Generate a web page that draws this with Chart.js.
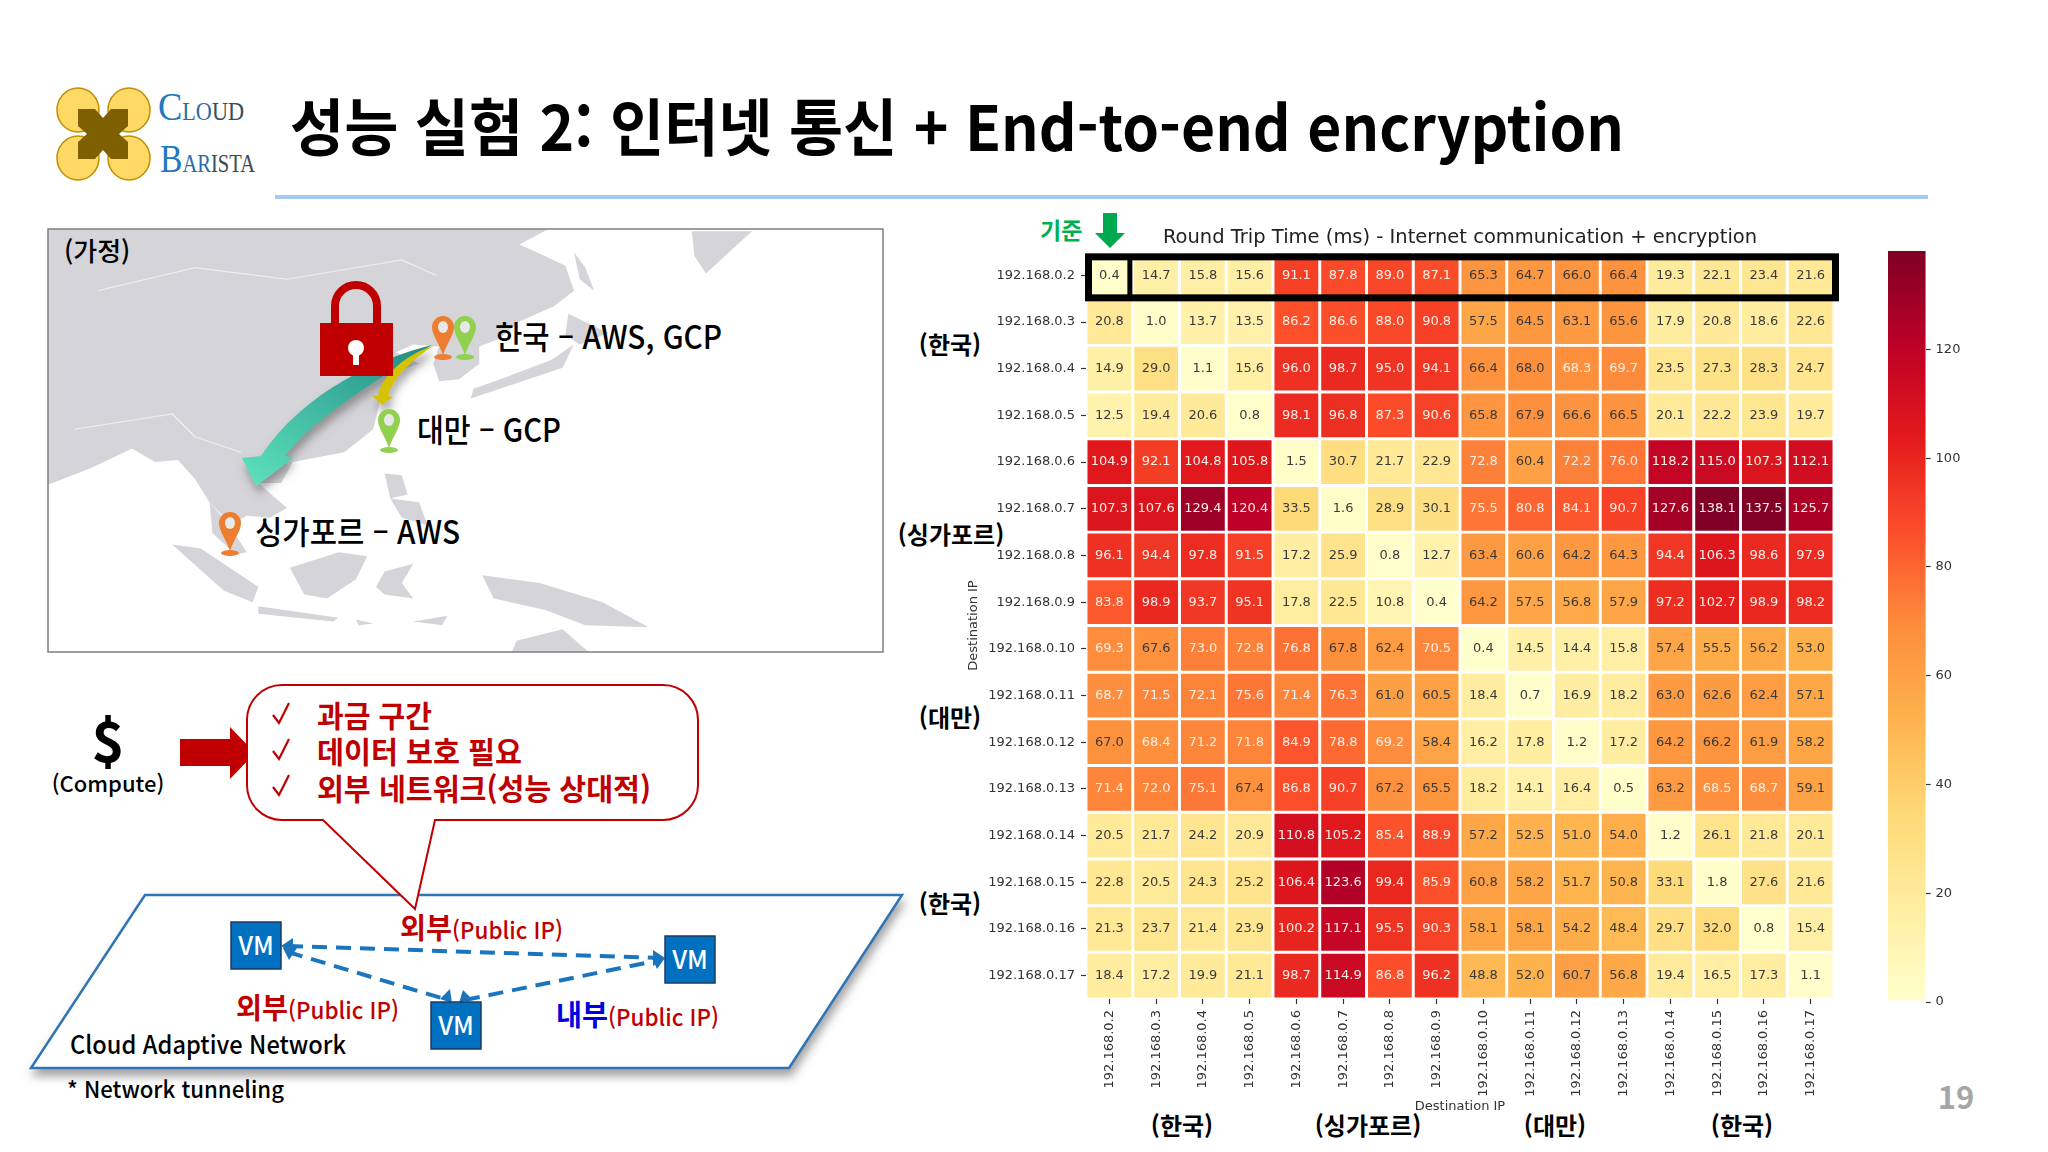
<!DOCTYPE html>
<html lang="ko">
<head>
<meta charset="utf-8">
<title>성능 실험 2</title>
<script src="https://cdn.jsdelivr.net/npm/chart.js@4/dist/chart.umd.min.js"></script>
<style>
  html, body { margin: 0; padding: 0; background: #fff; width: 2048px; height: 1152px; overflow: hidden; }
  #slide { position: absolute; left: 0; top: 0; }
  canvas { position: absolute; }
  #heatmap { left: 966px; top: 225px; }
  #colorbar { left: 1870px; top: 240px; }
  svg text { font-family: "Noto Sans CJK KR", "Noto Sans", sans-serif; }
</style>
</head>
<body>
<svg id="slide" width="2048" height="1152" viewBox="0 0 2048 1152" xmlns="http://www.w3.org/2000/svg">
  <defs>
    <clipPath id="mapClip"><rect x="48" y="229" width="835" height="423"/></clipPath>
    <filter id="soft" x="-20%" y="-20%" width="140%" height="150%">
      <feDropShadow dx="2" dy="7" stdDeviation="5" flood-color="#555" flood-opacity="0.55"/>
    </filter>
    <linearGradient id="teal" x1="1" y1="0" x2="0" y2="1">
      <stop offset="0" stop-color="#1f8a83"/><stop offset="1" stop-color="#5fe3bd"/>
    </linearGradient>
    <g id="pinO">
      <ellipse cx="0" cy="18" rx="9" ry="3" fill="#ed7d31"/>
      <path d="M0 16 C-4 4 -11 -4 -11 -12 A11 11 0 1 1 11 -12 C11 -4 4 4 0 16 Z" fill="#ed7d31"/>
      <ellipse cx="0" cy="-12" rx="5" ry="6" fill="#e8e8e8"/>
    </g>
    <g id="pinG">
      <ellipse cx="0" cy="18" rx="9" ry="3" fill="#92d050"/>
      <path d="M0 16 C-4 4 -11 -4 -11 -12 A11 11 0 1 1 11 -12 C11 -4 4 4 0 16 Z" fill="#92d050"/>
      <ellipse cx="0" cy="-12" rx="5" ry="6" fill="#e8e8e8"/>
    </g>
  </defs>

  <!-- logo -->
  <g fill="#ffd966" stroke="#bf9000" stroke-width="1.5">
    <ellipse cx="78" cy="110" rx="21" ry="22"/>
    <ellipse cx="129" cy="110" rx="21" ry="22"/>
    <ellipse cx="78" cy="158" rx="21" ry="22"/>
    <ellipse cx="129" cy="158" rx="21" ry="22"/>
  </g>
  <path d="M78 109 L95 109 L103 118 L111 109 L128 109 L128 126 L119 134 L128 142 L128 159 L111 159 L103 150 L95 159 L78 159 L78 142 L87 134 L78 126 Z" fill="#7f6000"/>
  <text x="158" y="120" textLength="86" lengthAdjust="spacingAndGlyphs" style="font-family:'Liberation Serif'" font-size="41" fill="#1f78c1">C<tspan font-size="25" fill="#2b6ca8">LO</tspan><tspan font-size="25" fill="#3a4a5a">UD</tspan></text>
  <text x="160" y="172" textLength="95" lengthAdjust="spacingAndGlyphs" style="font-family:'Liberation Serif'" font-size="41" fill="#1f78c1">B<tspan font-size="25" fill="#2b6ca8">AR</tspan><tspan font-size="25" fill="#3a4a5a">ISTA</tspan></text>

  <!-- title -->
  <text x="290" y="151" textLength="1334" lengthAdjust="spacingAndGlyphs" font-size="62" font-weight="700" fill="#000">성능 실험 2: 인터넷 통신 + End-to-end encryption</text>
  <rect x="275" y="195" width="1653" height="4" fill="#a6c9f3"/>

  <!-- map -->
  <g clip-path="url(#mapClip)">
    <g transform="translate(0,60) scale(0.574,0.3846)" fill="#d5d5d9">
      <path d="M83 440 L955 440 L905 480 L950 510 L985 535 L1000 600 L965 640 L905 680 L870 725 L835 745 L835 790 L800 830 L765 835 L755 790 L765 745 L720 740 L690 760 L730 790 L690 810 L665 850 L660 900 L650 960 L600 1020 L510 1045 L490 1100 L450 1100 L500 1165 L470 1190 L430 1185 L400 1210 L385 1180 L365 1150 L340 1090 L310 1040 L270 1045 L230 1010 L160 1060 L83 1105 Z"/>
      <path d="M365 1150 L395 1200 L430 1280 L410 1285 L370 1230 Z"/>
      <path d="M1000 500 L1020 540 L1035 600 L1010 570 Z"/>
      <path d="M1205 445 L1310 445 L1230 555 L1210 510 Z"/>
      <path d="M990 660 L1060 710 L1010 740 L985 715 Z"/>
      <path d="M1000 740 L980 800 L880 850 L820 880 L825 855 L890 820 L960 780 Z"/>
      <path d="M670 1075 L700 1080 L710 1130 L680 1140 Z"/>
      <path d="M680 1140 L730 1150 L745 1210 L700 1190 Z"/>
      <path d="M300 1260 L350 1270 L450 1370 L440 1410 L390 1380 Z"/>
      <path d="M505 1320 L590 1280 L640 1290 L620 1350 L570 1400 L530 1390 Z"/>
      <path d="M670 1330 L720 1310 L700 1360 L720 1400 L670 1390 L655 1370 Z"/>
      <path d="M840 1340 L940 1360 L1050 1410 L1130 1475 L1020 1470 L950 1430 L860 1400 Z"/>
      <path d="M450 1420 L590 1450 L580 1460 L450 1440 Z"/>
      <path d="M900 1510 L980 1480 L1030 1545 L890 1545 Z"/>
      <path d="M620 1455 L650 1465 L625 1470 Z"/>
      <path d="M720 1460 L780 1445 L770 1470 Z"/>
      <path d="M170 600 L340 540 L500 570 L700 520 L760 560" fill="none" stroke="#eee" stroke-width="3"/>
      <path d="M130 960 L300 920 L340 980 L420 1020" fill="none" stroke="#eee" stroke-width="3"/>
    </g>
  </g>
  <rect x="48" y="229" width="835" height="423" fill="none" stroke="#7f7f7f" stroke-width="1.5"/>
  <text x="64" y="261" font-size="26" font-weight="500">(가정)</text>

  <!-- arrows and lock -->
  <path d="M432 345 C380 358 305 390 261 456 L242 458 L256 486 L293 458 L285 456 C312 420 365 388 432 345 Z" fill="url(#teal)" filter="url(#soft)"/>
  <path d="M435 345 C405 355 382 375 378 396 L371 395 L382 405 L393 397 L388 396 C392 380 410 360 435 345 Z" fill="#d6c200" filter="url(#soft)"/>
  <path d="M335 330 L335 306 A21 21 0 0 1 377 306 L377 330" fill="none" stroke="#c00000" stroke-width="8"/>
  <path d="M320 323 L393 323 L393 376 L320 376 Z" fill="#c00000"/>
  <circle cx="356" cy="348" r="8" fill="#fff"/>
  <rect x="353" y="350" width="6" height="15" fill="#fff"/>

  <use href="#pinO" x="443" y="339"/>
  <use href="#pinG" x="465" y="339"/>
  <use href="#pinG" x="389" y="432"/>
  <use href="#pinO" x="230" y="535"/>
  <text x="495" y="349" textLength="227" lengthAdjust="spacingAndGlyphs" font-size="32" font-weight="500">한국 – AWS, GCP</text>
  <text x="417" y="442" textLength="144" lengthAdjust="spacingAndGlyphs" font-size="32" font-weight="500">대만 – GCP</text>
  <text x="255" y="544" textLength="205" lengthAdjust="spacingAndGlyphs" font-size="32" font-weight="500">싱가포르 – AWS</text>

  <!-- compute note -->
  <text x="108" y="762" font-size="56" font-weight="700" text-anchor="middle">$</text>
  <text x="108" y="792" font-size="22" font-weight="500" text-anchor="middle">(Compute)</text>
  <path d="M180 739 L230 739 L230 727 L255 753 L230 779 L230 766 L180 766 Z" fill="#c00000"/>

  <!-- network plane -->
  <path d="M145 895 L902 895 L789 1068 L31 1068 Z" fill="#fff" stroke="#2e75b6" stroke-width="2.5" filter="url(#soft)"/>

  <!-- callout -->
  <path d="M282 685 L663 685 A35 35 0 0 1 698 720 L698 785 A35 35 0 0 1 663 820 L435 820 L415 909 L323 820 L282 820 A35 35 0 0 1 247 785 L247 720 A35 35 0 0 1 282 685 Z" fill="#fff" stroke="#c00000" stroke-width="2"/>
  <g fill="#c00000" font-size="30" font-weight="700">
    <text x="317" y="727" textLength="115" lengthAdjust="spacingAndGlyphs">과금 구간</text>
    <text x="317" y="763" textLength="205" lengthAdjust="spacingAndGlyphs">데이터 보호 필요</text>
    <text x="317" y="800" textLength="334" lengthAdjust="spacingAndGlyphs">외부 네트워크(성능 상대적)</text>
  </g>
  <g fill="none" stroke="#c00000" stroke-width="2.2">
    <path d="M273 715 L279 723 L289 703"/>
    <path d="M273 751 L279 759 L289 739"/>
    <path d="M273 787 L279 795 L289 775"/>
  </g>

  <!-- VM links -->
  <g stroke="#1b75bc" stroke-width="4" stroke-dasharray="15 9" fill="none">
    <path d="M288 946 L660 958"/>
    <path d="M288 952 L448 1000"/>
    <path d="M465 1000 L660 960"/>
  </g>
  <g fill="#1b75bc">
    <path d="M281 946 L293 938 L293 954 Z"/>
    <path d="M665 958 L653 950 L653 966 Z"/>
    <path d="M283 948 L297 948 L289 960 Z"/>
    <path d="M452 1003 L440 999 L450 989 Z"/>
    <path d="M459 1003 L463 990 L472 999 Z"/>
    <path d="M665 958 L652 958 L657 969 Z"/>
  </g>
  <g fill="#0070c0" stroke="#1f3864" stroke-width="1.5">
    <rect x="231" y="922" width="50" height="47"/>
    <rect x="665" y="936" width="50" height="47"/>
    <rect x="431" y="1002" width="50" height="47"/>
  </g>
  <g fill="#fff" font-size="25" font-weight="500" text-anchor="middle">
    <text x="256" y="955">VM</text>
    <text x="690" y="969">VM</text>
    <text x="456" y="1035">VM</text>
  </g>
  <text x="400" y="939" textLength="163" lengthAdjust="spacingAndGlyphs" font-size="29" font-weight="700" fill="#c00000">외부<tspan font-size="23" font-weight="500">(Public IP)</tspan></text>
  <text x="236" y="1019" textLength="163" lengthAdjust="spacingAndGlyphs" font-size="29" font-weight="700" fill="#c00000">외부<tspan font-size="23" font-weight="500">(Public IP)</tspan></text>
  <text x="556" y="1026" textLength="163" lengthAdjust="spacingAndGlyphs" font-size="29" font-weight="700" fill="#0000e0">내부<tspan font-size="23" font-weight="500" fill="#c00000">(Public IP)</tspan></text>
  <text x="70" y="1054" textLength="276" lengthAdjust="spacingAndGlyphs" font-size="25" font-weight="500">Cloud Adaptive Network</text>
  <text x="67" y="1098" textLength="217" lengthAdjust="spacingAndGlyphs" font-size="23" font-weight="500">* Network tunneling</text>

  <!-- group labels around the heatmap -->
  <g font-size="24" font-weight="700" text-anchor="middle">
    <text x="950" y="354">(한국)</text>
    <text x="951" y="544">(싱가포르)</text>
    <text x="950" y="727">(대만)</text>
    <text x="950" y="913">(한국)</text>
    <text x="1182" y="1135">(한국)</text>
    <text x="1368" y="1135">(싱가포르)</text>
    <text x="1555" y="1135">(대만)</text>
    <text x="1742" y="1135">(한국)</text>
  </g>
  <text x="1040" y="239" font-size="23" font-weight="700" fill="#00b050">기준</text>
  <path d="M1103 213 L1117 213 L1117 233 L1125 233 L1110 248 L1095 233 L1103 233 Z" fill="#00a84f"/>
  <text x="1956" y="1109" font-size="31" font-weight="700" fill="#a6a6a6" text-anchor="middle">19</text>
</svg>

<canvas id="heatmap" width="875" height="889"></canvas>
<canvas id="colorbar" width="120" height="780"></canvas>

<script>
/* ── Round trip time data (ms) ── */
const hosts = ['192.168.0.2', '192.168.0.3', '192.168.0.4', '192.168.0.5',
  '192.168.0.6', '192.168.0.7', '192.168.0.8', '192.168.0.9',
  '192.168.0.10', '192.168.0.11', '192.168.0.12', '192.168.0.13',
  '192.168.0.14', '192.168.0.15', '192.168.0.16', '192.168.0.17'];

const rtt02 = [0.4, 14.7, 15.8, 15.6, 91.1, 87.8, 89.0, 87.1, 65.3, 64.7, 66.0, 66.4, 19.3, 22.1, 23.4, 21.6];
const rtt03 = [20.8, 1.0, 13.7, 13.5, 86.2, 86.6, 88.0, 90.8, 57.5, 64.5, 63.1, 65.6, 17.9, 20.8, 18.6, 22.6];
const rtt04 = [14.9, 29.0, 1.1, 15.6, 96.0, 98.7, 95.0, 94.1, 66.4, 68.0, 68.3, 69.7, 23.5, 27.3, 28.3, 24.7];
const rtt05 = [12.5, 19.4, 20.6, 0.8, 98.1, 96.8, 87.3, 90.6, 65.8, 67.9, 66.6, 66.5, 20.1, 22.2, 23.9, 19.7];
const rtt06 = [104.9, 92.1, 104.8, 105.8, 1.5, 30.7, 21.7, 22.9, 72.8, 60.4, 72.2, 76.0, 118.2, 115.0, 107.3, 112.1];
const rtt07 = [107.3, 107.6, 129.4, 120.4, 33.5, 1.6, 28.9, 30.1, 75.5, 80.8, 84.1, 90.7, 127.6, 138.1, 137.5, 125.7];
const rtt08 = [96.1, 94.4, 97.8, 91.5, 17.2, 25.9, 0.8, 12.7, 63.4, 60.6, 64.2, 64.3, 94.4, 106.3, 98.6, 97.9];
const rtt09 = [83.8, 98.9, 93.7, 95.1, 17.8, 22.5, 10.8, 0.4, 64.2, 57.5, 56.8, 57.9, 97.2, 102.7, 98.9, 98.2];
const rtt10 = [69.3, 67.6, 73.0, 72.8, 76.8, 67.8, 62.4, 70.5, 0.4, 14.5, 14.4, 15.8, 57.4, 55.5, 56.2, 53.0];
const rtt11 = [68.7, 71.5, 72.1, 75.6, 71.4, 76.3, 61.0, 60.5, 18.4, 0.7, 16.9, 18.2, 63.0, 62.6, 62.4, 57.1];
const rtt12 = [67.0, 68.4, 71.2, 71.8, 84.9, 78.8, 69.2, 58.4, 16.2, 17.8, 1.2, 17.2, 64.2, 66.2, 61.9, 58.2];
const rtt13 = [71.4, 72.0, 75.1, 67.4, 86.8, 90.7, 67.2, 65.5, 18.2, 14.1, 16.4, 0.5, 63.2, 68.5, 68.7, 59.1];
const rtt14 = [20.5, 21.7, 24.2, 20.9, 110.8, 105.2, 85.4, 88.9, 57.2, 52.5, 51.0, 54.0, 1.2, 26.1, 21.8, 20.1];
const rtt15 = [22.8, 20.5, 24.3, 25.2, 106.4, 123.6, 99.4, 85.9, 60.8, 58.2, 51.7, 50.8, 33.1, 1.8, 27.6, 21.6];
const rtt16 = [21.3, 23.7, 21.4, 23.9, 100.2, 117.1, 95.5, 90.3, 58.1, 58.1, 54.2, 48.4, 29.7, 32.0, 0.8, 15.4];
const rtt17 = [18.4, 17.2, 19.9, 21.1, 98.7, 114.9, 86.8, 96.2, 48.8, 52.0, 60.7, 56.8, 19.4, 16.5, 17.3, 1.1];
const rttRows = [rtt02, rtt03, rtt04, rtt05, rtt06, rtt07, rtt08, rtt09, rtt10, rtt11, rtt12, rtt13, rtt14, rtt15, rtt16, rtt17];

const colorbarTicks = [0, 20, 40, 60, 80, 100, 120];
const rttMin = 0.4;
const rttMax = 138.1;

// matplotlib YlOrRd stops
const ylOrRd = ['#ffffcc', '#ffeda0', '#fed976', '#feb24c', '#fd8d3c', '#fc4e2a', '#e31a1c', '#bd0026', '#800026'];

const FONT = "'DejaVu Sans', sans-serif";
const INK = '#333333';
const CELL_SIDE = 43.8;

Chart.defaults.font.family = FONT;
Chart.defaults.font.size = 13;
Chart.defaults.color = INK;
Chart.defaults.animation = false;

function hexToRgb(hex) {
  return [1, 3, 5].map(i => parseInt(hex.slice(i, i + 2), 16));
}

function rttColor(v) {
  const t = (v - rttMin) / (rttMax - rttMin) * (ylOrRd.length - 1);
  const i = Math.min(Math.floor(t), ylOrRd.length - 2);
  const a = hexToRgb(ylOrRd[i]);
  const b = hexToRgb(ylOrRd[i + 1]);
  const c = a.map((x, k) => Math.round(x + (b[k] - x) * (t - i)));
  return `rgb(${c[0]},${c[1]},${c[2]})`;
}

// The rotated end labels would otherwise pull the plot in from the canvas edge
function fixScale(scale, size) {
  scale.paddingLeft = scale.paddingRight = scale.paddingTop = scale.paddingBottom = 0;
  if (scale.isHorizontal()) scale.height = size;
  else scale.width = size;
}

// Cell numbers, on top of the point elements
const cellLabels = {
  id: 'cellLabels',
  afterDatasetsDraw(chart) {
    const { ctx } = chart;
    const points = chart.data.datasets[0].data;
    ctx.save();
    ctx.font = `13px ${FONT}`;
    ctx.textAlign = 'center';
    ctx.textBaseline = 'middle';
    chart.getDatasetMeta(0).data.forEach((el, i) => {
      const v = points[i].v;
      ctx.fillStyle = v >= 68.2 ? '#fbeee6' : '#3a3a3a';
      ctx.fillText(v.toFixed(1), el.x, el.y);
    });
    ctx.restore();
  },
};

// Thick black frame around the reference row and its first cell
const referenceFrame = {
  id: 'referenceFrame',
  afterDatasetsDraw(chart) {
    const { ctx, chartArea } = chart;
    const cx = chart.scales.x.getPixelForValue(0);
    const cy = chart.scales.y.getPixelForValue(0);
    ctx.save();
    ctx.strokeStyle = '#000';
    ctx.lineWidth = 7;
    ctx.strokeRect(chartArea.left + 2.5, cy - 18.5, chartArea.width - 1, 41);
    ctx.lineWidth = 5;
    ctx.beginPath();
    ctx.moveTo(cx + 20.5, cy - 18.5);
    ctx.lineTo(cx + 20.5, cy + 22.5);
    ctx.stroke();
    ctx.restore();
  },
};

new Chart(document.getElementById('heatmap'), {
  type: 'scatter',
  data: {
    datasets: [{
      data: rttRows.flatMap((row, r) => row.map((v, c) => ({ x: hosts[c], y: hosts[r], v }))),
      pointStyle: 'rect',
      pointRadius: CELL_SIDE / Math.SQRT2,
      pointBorderWidth: 0,
      backgroundColor: ctx => rttColor(ctx.raw.v),
    }],
  },
  options: {
    responsive: false,
    devicePixelRatio: 1,
    layout: { autoPadding: false, padding: { right: 7 } },
    scales: {
      x: {
        type: 'category',
        labels: hosts,
        offset: true,
        afterFit: s => fixScale(s, 115),
        border: { display: false },
        grid: { drawOnChartArea: false, tickLength: 5, tickColor: INK, tickWidth: 1.2 },
        ticks: { minRotation: 90, maxRotation: 90, autoSkip: false, padding: 6, color: INK },
        title: { display: true, text: 'Destination IP', color: INK, padding: 0 },
      },
      y: {
        type: 'category',
        labels: hosts,
        offset: true,
        afterFit: s => fixScale(s, 120),
        border: { display: false },
        grid: { drawOnChartArea: false, tickLength: 5, tickColor: INK, tickWidth: 1.2 },
        ticks: { autoSkip: false, padding: 6, color: INK },
        title: { display: true, text: 'Destination IP', color: INK, padding: 0 },
      },
    },
    plugins: {
      legend: { display: false },
      tooltip: { enabled: false },
      title: {
        display: true,
        fullSize: false,
        text: 'Round Trip Time (ms) - Internet communication + encryption',
        font: { size: 19.5, weight: 'normal' },
        color: '#222',
        padding: { top: 1, bottom: 2.6 },
      },
    },
  },
  plugins: [cellLabels, referenceFrame],
});

new Chart(document.getElementById('colorbar'), {
  type: 'bar',
  data: {
    labels: ['rtt'],
    datasets: [{
      data: [[rttMin, rttMax]],
      barPercentage: 1,
      categoryPercentage: 1,
      backgroundColor: ctx => {
        const { chart } = ctx;
        if (!chart.chartArea) return ylOrRd[4];
        const y = chart.scales.y;
        const g = chart.ctx.createLinearGradient(0, y.getPixelForValue(rttMin), 0, y.getPixelForValue(rttMax));
        ylOrRd.forEach((c, i) => g.addColorStop(i / (ylOrRd.length - 1), c));
        return g;
      },
    }],
  },
  options: {
    responsive: false,
    devicePixelRatio: 1,
    layout: { padding: { left: 18, top: 11, bottom: 18 } },
    scales: {
      x: { display: false },
      y: {
        position: 'right',
        min: 0,
        max: rttMax,
        afterBuildTicks: s => { s.ticks = colorbarTicks.map(value => ({ value })); },
        afterFit: s => fixScale(s, 64.4),
        border: { display: false },
        grid: { drawOnChartArea: false, tickLength: 5, tickColor: INK, tickWidth: 1.2 },
        ticks: { padding: 5, color: INK },
      },
    },
    plugins: { legend: { display: false }, tooltip: { enabled: false } },
  },
});
</script>
</body>
</html>
